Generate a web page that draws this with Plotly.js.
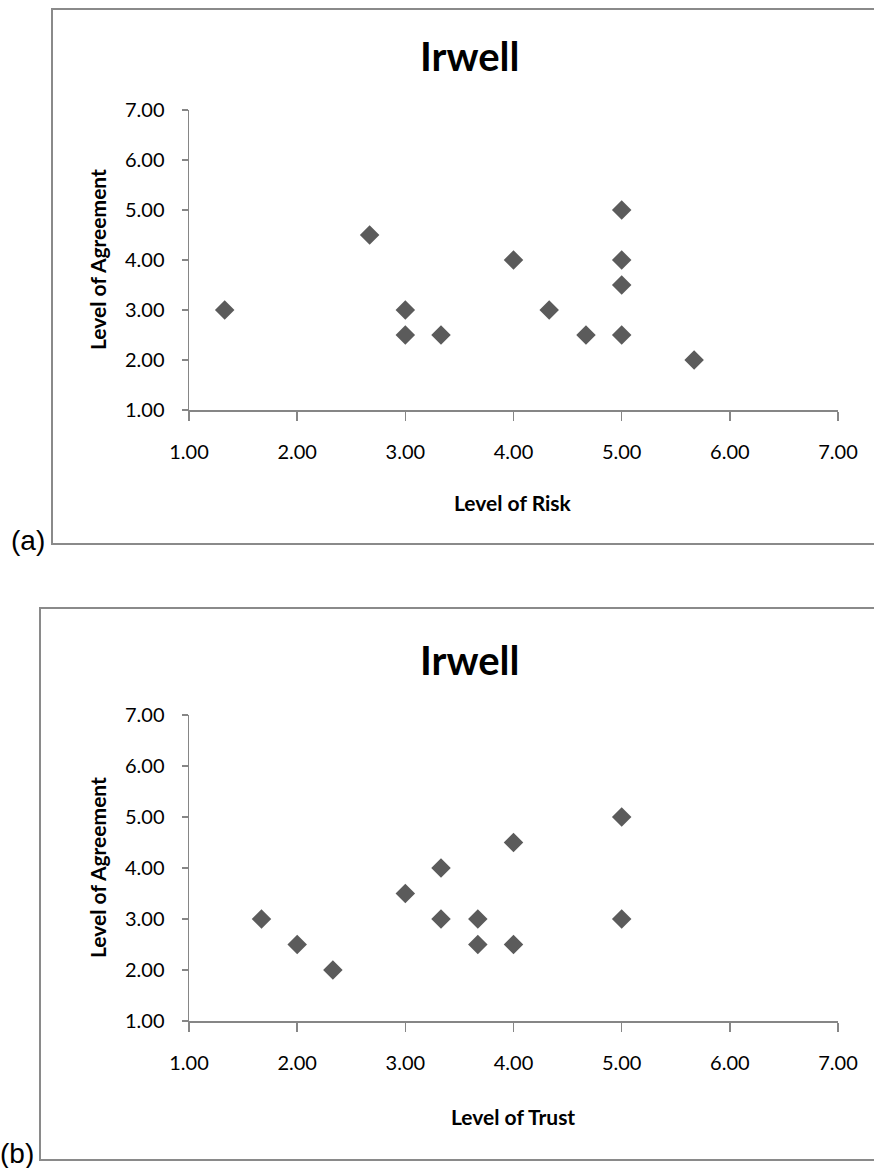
<!DOCTYPE html>
<html>
<head>
<meta charset="utf-8">
<script src="https://cdn.plot.ly/plotly-3.0.1.min.js"></script>
<style>html,body{margin:0;padding:0;background:#fff;}#chart{width:874px;height:1168px;}</style>
</head>
<body>
<div id="chart"></div>
<script>
// Chart (a): Level of Risk vs Level of Agreement
const riskX = [1.33, 2.67, 3.00, 3.00, 3.33, 4.00, 4.33, 4.67, 5.00, 5.00, 5.00, 5.00, 5.67];
const riskY = [3.00, 4.50, 3.00, 2.50, 2.50, 4.00, 3.00, 2.50, 5.00, 4.00, 3.50, 2.50, 2.00];
// Chart (b): Level of Trust vs Level of Agreement
const trustX = [1.67, 2.00, 2.33, 3.00, 3.33, 3.33, 3.67, 3.67, 4.00, 4.00, 5.00, 5.00];
const trustY = [3.00, 2.50, 2.00, 3.50, 4.00, 3.00, 3.00, 2.50, 4.50, 2.50, 5.00, 3.00];
const axisRange = [1, 7];
const chartTitle = "Irwell";
const xTitleA = "Level of Risk";
const xTitleB = "Level of Trust";
const yTitle = "Level of Agreement";
const panelLabels = ["(a)", "(b)"];

const W = 874, H = 1168;
const px = v => v / W;
const py = v => 1 - v / H;

const markerStyle = {symbol: 'diamond', size: 15, color: '#5b5b5b', line: {width: 0}};
const font = "Lato, 'Open Sans', sans-serif";

const data = [
  {x: riskX, y: riskY, type: 'scatter', mode: 'markers', marker: markerStyle, xaxis: 'x', yaxis: 'y', hoverinfo: 'none'},
  {x: trustX, y: trustY, type: 'scatter', mode: 'markers', marker: markerStyle, xaxis: 'x2', yaxis: 'y2', hoverinfo: 'none'}
];

function xAx(anchor) {
  return {
    range: axisRange, dtick: 1, tick0: 1, tickformat: '.2f',
    showgrid: false, zeroline: false, showline: true, linecolor: '#868686', linewidth: 1.5,
    ticks: 'outside', ticklen: 9, tickcolor: '#868686', tickwidth: 1.5,
    ticklabelstandoff: 14,
    tickfont: {family: font, size: 20, color: '#000'},
    anchor: anchor, domain: [px(189), px(838)], fixedrange: true
  };
}
function yAx(anchor, top, bottom) {
  return {
    range: axisRange, dtick: 1, tick0: 1, tickformat: '.2f',
    showgrid: false, zeroline: false, showline: true, linecolor: '#868686', linewidth: 1.5,
    ticks: 'outside', ticklen: 6, tickcolor: '#868686', tickwidth: 1.5,
    ticklabelstandoff: 13,
    tickfont: {family: font, size: 20, color: '#000'},
    anchor: anchor, domain: [py(bottom), py(top)], fixedrange: true
  };
}

const ann = (text, x, y, size, bold, extra) => Object.assign({
  text: bold ? '<b>' + text + '</b>' : text, xref: 'paper', yref: 'paper',
  x: px(x), y: py(y), xanchor: 'center', yanchor: 'middle', showarrow: false,
  font: {family: font, size: size, color: '#000'}
}, extra || {});

const panelFont = {family: "'Liberation Sans', Arial, sans-serif", size: 28, color: '#000'};

const layout = {
  width: W, height: H,
  margin: {l: 0, r: 0, t: 0, b: 0},
  paper_bgcolor: '#fff', plot_bgcolor: '#fff',
  showlegend: false,
  xaxis: xAx('y'),
  yaxis: yAx('x', 110, 410),
  xaxis2: xAx('y2'),
  yaxis2: yAx('x2', 715, 1021),
  shapes: [
    {type: 'rect', xref: 'paper', yref: 'paper', x0: px(52), x1: px(880), y0: py(544), y1: py(9), line: {color: '#8a8a8a', width: 2}},
    {type: 'rect', xref: 'paper', yref: 'paper', x0: px(40), x1: px(880), y0: py(1160), y1: py(608), line: {color: '#8a8a8a', width: 2}}
  ],
  annotations: [
    ann(chartTitle, 469, 56, 40, true),
    ann(yTitle, 97, 260, 21, true, {textangle: -90}),
    ann(xTitleA, 513, 502, 21, true),
    ann(chartTitle, 469, 660, 40, true),
    ann(yTitle, 97, 868, 21, true, {textangle: -90}),
    ann(xTitleB, 513, 1116, 21, true),
    ann(panelLabels[0], 28, 540, 28, false, {font: panelFont}),
    ann(panelLabels[1], 17, 1153, 28, false, {font: panelFont})
  ]
};

Plotly.newPlot('chart', data, layout, {staticPlot: true, displayModeBar: false});
</script>
</body>
</html>
